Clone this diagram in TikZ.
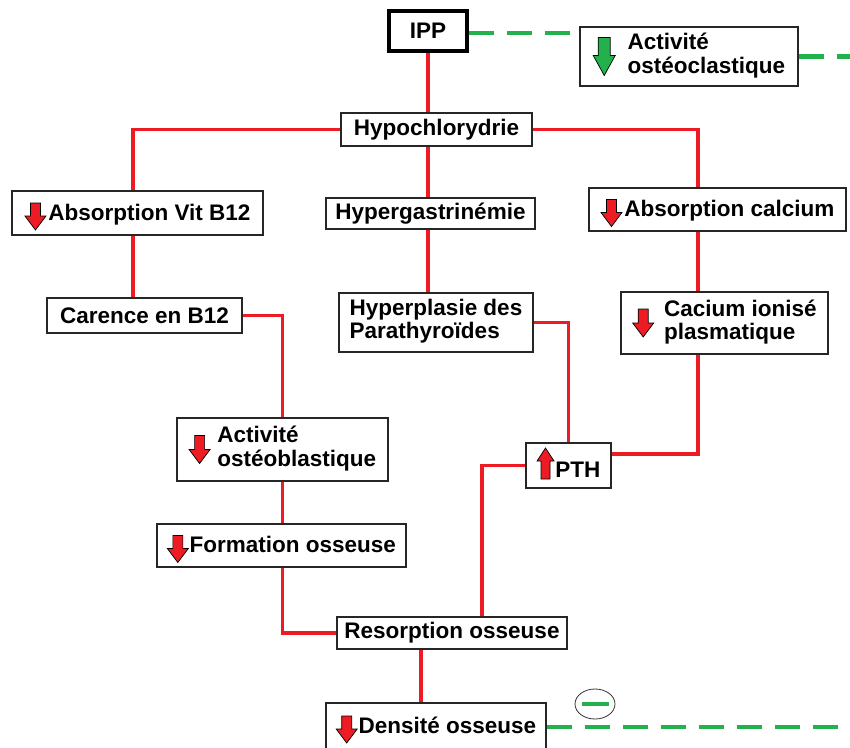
\documentclass[tikz,border=0pt]{standalone}
\usepackage{fontspec}
\setmainfont{Liberation Sans}
\definecolor{arrred}{HTML}{ED1C24}
\definecolor{lnred}{HTML}{ED1C24}
\definecolor{grn}{HTML}{22B14C}
\newcommand{\dnarr}{\tikz[baseline=0pt,x=1pt,y=1pt]\draw[fill=arrred,draw=black,line width=0.7pt] (-5,17) -- (5,17) -- (5,4) -- (10.5,4) -- (0,-10) -- (-10.5,4) -- (-5,4) -- cycle;}
\newcommand{\dnarrc}{$\vcenter{\hbox{\tikz[x=1pt,y=1pt]\draw[fill=arrred,draw=black,line width=0.7pt] (-5,14) -- (5,14) -- (5,0) -- (10.5,0) -- (0,-14) -- (-10.5,0) -- (-5,0) -- cycle;}}$}
\newcommand{\grarr}{$\vcenter{\hbox{\tikz[x=1pt,y=1pt]\draw[fill=grn,draw=black,line width=0.7pt] (-6,19) -- (6,19) -- (6,1) -- (11,1) -- (0,-19) -- (-11,1) -- (-6,1) -- cycle;}}$}
\newcommand{\uparr}{\tikz[baseline=0pt,x=1pt,y=1pt]\draw[fill=arrred,draw=black,line width=0.7pt] (-4.5,-2) -- (4.5,-2) -- (4.5,16) -- (8.5,16) -- (0,29) -- (-8.5,16) -- (-4.5,16) -- cycle;}
\newcommand{\twol}[1]{$\vcenter{\hbox{\begin{tabular}{@{}l@{}}#1\end{tabular}}}$}
\begin{document}
\begin{tikzpicture}[x=1pt,y=-1pt,
  box/.style={draw=black!85,line width=1.2pt,fill=white,inner sep=0pt,font=\bfseries\fontsize{22.5}{23}\selectfont},
  lowtxt/.style={text height=20pt,text depth=6pt},
  conn/.style={draw=lnred,line width=3.7pt},
  gdash/.style={draw=grn,line width=4.5pt,dash pattern=on 25pt off 13pt}]
\useasboundingbox (0,0) rectangle (850,747);

\node[box,minimum width=78pt,minimum height=40pt,line width=3.5pt,draw=black] (ipp) at (428,31) {IPP};
\node[box,minimum width=218pt,minimum height=59pt] (ocl) at (689,56.5) {\grarr\hspace{12pt}\twol{Activité\\ostéoclastique}};
\node[box,minimum width=191pt,minimum height=33pt] (hypo) at (436.5,129.5) {Hypochlorydrie};
\node[box,lowtxt,minimum width=251pt,minimum height=44pt] (vitb) at (137.5,213) {\dnarr\hspace{2pt}Absorption Vit B12};
\node[box,minimum width=209pt,minimum height=31pt] (gast) at (430.5,213.5) {Hypergastrinémie};
\node[box,lowtxt,minimum width=257pt,minimum height=43pt] (calc) at (717.5,209.5) {\dnarr\hspace{2pt}Absorption calcium};
\node[box,minimum width=195pt,minimum height=35pt] (car) at (144.5,315.5) {Carence en B12};
\node[box,minimum width=194pt,minimum height=59pt] (hyp) at (436,322.5) {\twol{Hyperplasie des\\Parathyroïdes}};
\node[box,minimum width=207pt,minimum height=62pt] (cac) at (724.5,323) {\dnarrc\hspace{10pt}\twol{Cacium ionisé\\plasmatique}};
\node[box,minimum width=211pt,minimum height=63pt] (ostb) at (282.5,449.5) {\dnarrc\hspace{7pt}\twol{Activité\\ostéoblastique}};
\node[box,text height=29pt,text depth=6pt,minimum width=85pt,minimum height=45pt] (pth) at (568.5,465.5) {\uparr\hspace{1pt}PTH};
\node[box,lowtxt,minimum width=249pt,minimum height=43pt] (form) at (281.5,545.5) {\dnarr\hspace{1pt}Formation osseuse};
\node[box,minimum width=230pt,minimum height=32pt] (res) at (452,633) {Resorption osseuse};
\node[box,lowtxt,minimum width=220pt,minimum height=46pt] (dens) at (436,726) {\dnarr\hspace{1pt}Densité osseuse};

\coordinate (tx) at (428,0);
\coordinate (lx) at (133,0);
\coordinate (rx) at (698,0);
\coordinate (px) at (482,0);
\coordinate (dx) at (421,0);
\coordinate (py) at (0,454);
\coordinate (gy) at (0,33);
\coordinate (ge1) at (850,56.5);
\coordinate (ge2) at (850,727);

\draw[conn] (ipp.south) -- (ipp.south |- hypo.north);
\draw[conn] (hypo.west) -| (vitb.north -| lx);
\draw[conn] (hypo.east) -| (calc.north -| rx);
\draw[conn] (hypo.south -| tx) -- (gast.north -| tx);
\draw[conn] (gast.south -| tx) -- (hyp.north -| tx);
\draw[conn] (hyp.east) -| (pth.north);
\draw[conn] (calc.south -| rx) -- (cac.north -| rx);
\draw[conn] (cac.south -| rx) |- (pth.east |- py);
\draw[conn] (pth.west) -| (res.north -| px);
\draw[conn] (vitb.south -| lx) -- (car.north -| lx);
\draw[conn] (car.east) -| (ostb.north);
\draw[conn] (ostb.south) -- (ostb.south |- form.north);
\draw[conn] (ostb.south |- form.south) |- (res.west);
\draw[conn] (res.south -| dx) -- (dens.north -| dx);

\draw[gdash] (ipp.east |- gy) -- (ocl.west |- gy);
\draw[gdash] (ocl.east) -- (ge1);
\draw[gdash] (dens.east |- ge2) -- (ge2);

\draw[black!80,line width=0.8pt] (595,704) ellipse [x radius=20pt, y radius=15pt];
\draw[grn,line width=4pt] (582,704) -- (609,704);
\end{tikzpicture}
\end{document}
